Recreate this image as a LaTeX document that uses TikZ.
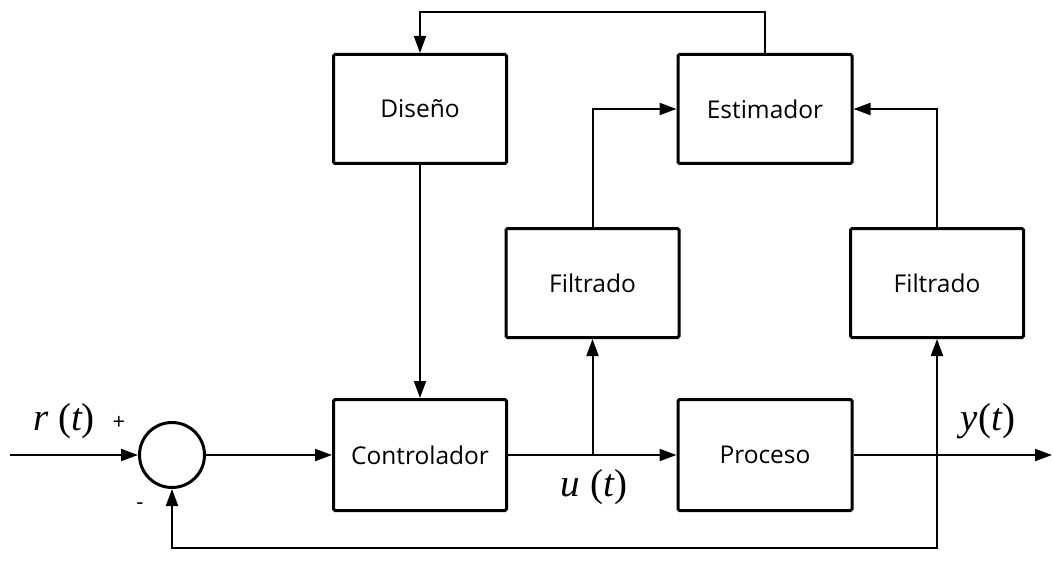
\documentclass[tikz,border=0pt]{standalone}
\usepackage{fontspec}
\setmainfont{Open Sans}
\newfontfamily\tms{Liberation Serif}
\usetikzlibrary{arrows.meta}
\begin{document}
\begin{tikzpicture}[x=1pt,y=-1pt,
  blk/.style={draw,line width=3pt,rounded corners=1.5pt,minimum width=#1,minimum height=109pt,inner sep=0pt,font=\fontsize{24.5}{28}\selectfont},
  blk/.default=173pt,
  conn/.style={line width=2pt,-{Triangle[length=17pt,width=12pt]}},
  sig/.style={font=\tms\fontsize{39}{42}\selectfont},
  sgn/.style={font=\fontsize{22}{24}\selectfont}]
\useasboundingbox (0,0) rectangle (1053,575);
\node[blk] (dis) at (420,109) {Diseño};
\node[blk=174pt] (est) at (765,109) {Estimador};
\node[blk] (f1) at (592.5,283) {Filtrado};
\node[blk] (f2) at (937,283) {Filtrado};
\node[blk,minimum height=111pt] (ctl) at (420,455) {Controlador};
\node[blk=174pt,minimum height=111pt] (proc) at (765,455) {Proceso};
\node[draw,circle,line width=3pt,minimum size=65pt,inner sep=0pt] (sum) at (172,455) {};
\coordinate (in) at (10,455);
\coordinate (out) at (1052,455);
\coordinate (b1) at (592.5,455);
\coordinate (b2) at (937,455);
\coordinate (tl) at (420,12);
\coordinate (tr) at (765,12);
\coordinate (bl) at (172,548);
\coordinate (br) at (937,548);
% connectors
\draw[conn] (in) -- (sum);
\draw[conn] (sum) -- (ctl);
\draw[conn] (ctl) -- (proc);
\draw[conn] (proc) -- (out);
\draw[conn] (dis) -- (ctl);
\draw[conn] (est.north) -- (tr) -- (tl) -- (dis.north);
\draw[conn] (b1) -- (f1.south);
\draw[conn] (b2) -- (f2.south);
\draw[conn] (f1.north) |- (est.west);
\draw[conn] (f2.north) |- (est.east);
\draw[conn] (b2) -- (br) -- (bl) -- (sum.south);
% labels
\node[sig] (lr) at (64,421) {\itshape r \upshape(\itshape t\upshape)};
\node[sig] (lu) at (594,487) {\itshape u \upshape(\itshape t\upshape)};
\node[sig] (ly) at (988,421) {\itshape y\upshape(\itshape t\upshape)};
\node[sgn] (lp) at (119,423) {+};
\node[sgn] (lm) at (140,506) {-};
\end{tikzpicture}
\end{document}
